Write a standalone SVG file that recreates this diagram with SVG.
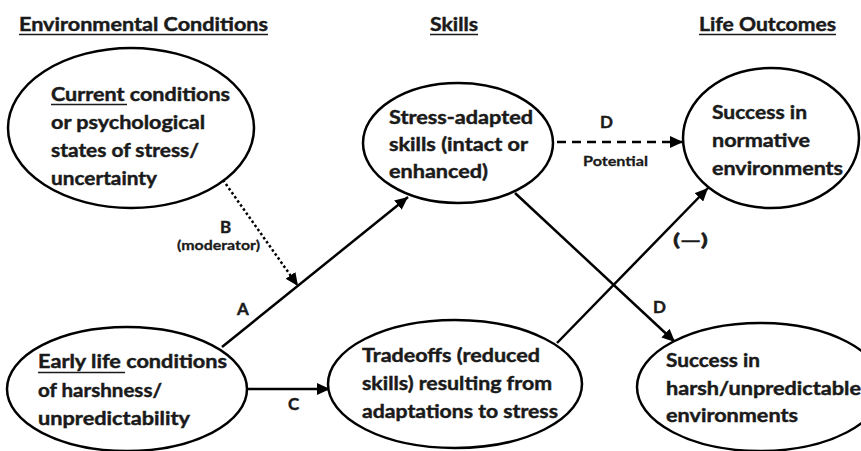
<svg xmlns="http://www.w3.org/2000/svg" width="861" height="451" viewBox="0 0 861 451">
<style>
  .t{font-family:Lato,"Open Sans","Liberation Sans",sans-serif;font-weight:bold;fill:#1a1a1a;stroke:#1a1a1a;stroke-width:0.45}
  .h{font-size:19px}
  .n{font-size:19px}
  .l{font-size:17px}
  .s{font-size:14px;stroke-width:0.3}
  .node{fill:#fff;stroke:#000;stroke-width:2.5}
  .ul{stroke:#1a1a1a;stroke-width:1.6}
  .c{stroke:#000;stroke-width:2.5;fill:none}
</style>
<defs>
  <marker id="ah" markerUnits="userSpaceOnUse" markerWidth="14" markerHeight="12" refX="13" refY="6" orient="auto">
    <path d="M0,0 L13,6 L0,12 z" fill="#000"/>
  </marker>
</defs>
<rect width="861" height="451" fill="#fff"/>

<g id="headers">
  <text class="t h" x="19" y="31" textLength="249" lengthAdjust="spacingAndGlyphs">Environmental Conditions</text>
  <line class="ul" x1="19" y1="34.5" x2="268" y2="34.5"/>
  <text class="t h" x="430" y="31" textLength="48" lengthAdjust="spacingAndGlyphs">Skills</text>
  <line class="ul" x1="430" y1="34.5" x2="478" y2="34.5"/>
  <text class="t h" x="699" y="31" textLength="137" lengthAdjust="spacingAndGlyphs">Life Outcomes</text>
  <line class="ul" x1="699" y1="34.5" x2="836" y2="34.5"/>
</g>

<g id="connectors">
  <line class="c" x1="222" y1="347" x2="408" y2="197" marker-end="url(#ah)"/>
  <line class="c" x1="223" y1="180" x2="298" y2="286" stroke-dasharray="2.5 2.5" marker-end="url(#ah)"/>
  <line class="c" x1="247" y1="389" x2="330" y2="389" marker-end="url(#ah)"/>
  <line class="c" x1="557" y1="142" x2="683" y2="142" stroke-dasharray="9 6" marker-end="url(#ah)"/>
  <line class="c" x1="515" y1="193" x2="675" y2="342" marker-end="url(#ah)"/>
  <line class="c" x1="557" y1="343" x2="708" y2="188" marker-end="url(#ah)"/>
</g>

<g id="labels">
  <text class="t l" x="237" y="315">A</text>
  <text class="t l" x="220" y="233">B</text>
  <text class="t s" x="177" y="250" textLength="83" lengthAdjust="spacingAndGlyphs">(moderator)</text>
  <text class="t l" x="288" y="410">C</text>
  <text class="t l" x="600" y="128">D</text>
  <text class="t s" x="583" y="166" textLength="65" lengthAdjust="spacingAndGlyphs">Potential</text>
  <text class="t l" x="673" y="246" textLength="35" lengthAdjust="spacingAndGlyphs">(—)</text>
  <text class="t l" x="653" y="313">D</text>
</g>

<g id="current">
  <ellipse class="node" cx="131" cy="128" rx="123" ry="80"/>
  <text class="t n" x="51" y="101" textLength="179" lengthAdjust="spacingAndGlyphs">Current conditions</text>
  <line class="ul" x1="51" y1="104.5" x2="127" y2="104.5"/>
  <text class="t n" x="51" y="129" textLength="154" lengthAdjust="spacingAndGlyphs">or psychological</text>
  <text class="t n" x="51" y="157" textLength="148" lengthAdjust="spacingAndGlyphs">states of stress/</text>
  <text class="t n" x="51" y="185" textLength="106" lengthAdjust="spacingAndGlyphs">uncertainty</text>
</g>

<g id="early">
  <ellipse class="node" cx="127" cy="389" rx="120" ry="62"/>
  <text class="t n" x="38" y="368" textLength="189" lengthAdjust="spacingAndGlyphs">Early life conditions</text>
  <line class="ul" x1="38" y1="372.5" x2="125" y2="372.5"/>
  <text class="t n" x="38" y="397" textLength="124" lengthAdjust="spacingAndGlyphs">of harshness/</text>
  <text class="t n" x="38" y="425" textLength="152" lengthAdjust="spacingAndGlyphs">unpredictability</text>
</g>

<g id="stress">
  <ellipse class="node" cx="458" cy="143" rx="95" ry="60"/>
  <text class="t n" x="389" y="124" textLength="144" lengthAdjust="spacingAndGlyphs">Stress-adapted</text>
  <text class="t n" x="389" y="151" textLength="139" lengthAdjust="spacingAndGlyphs">skills (intact or</text>
  <text class="t n" x="389" y="178" textLength="99" lengthAdjust="spacingAndGlyphs">enhanced)</text>
</g>

<g id="tradeoffs">
  <ellipse class="node" cx="455" cy="384" rx="127" ry="64"/>
  <text class="t n" x="362" y="362" textLength="178" lengthAdjust="spacingAndGlyphs">Tradeoffs (reduced</text>
  <text class="t n" x="362" y="390" textLength="190" lengthAdjust="spacingAndGlyphs">skills) resulting from</text>
  <text class="t n" x="362" y="418" textLength="196" lengthAdjust="spacingAndGlyphs">adaptations to stress</text>
</g>

<g id="normative">
  <ellipse class="node" cx="771" cy="138" rx="88" ry="70"/>
  <text class="t n" x="712" y="119" textLength="95" lengthAdjust="spacingAndGlyphs">Success in</text>
  <text class="t n" x="712" y="147" textLength="98" lengthAdjust="spacingAndGlyphs">normative</text>
  <text class="t n" x="712" y="175" textLength="131" lengthAdjust="spacingAndGlyphs">environments</text>
</g>

<g id="harsh">
  <ellipse class="node" cx="760" cy="387" rx="123" ry="64"/>
  <text class="t n" x="666" y="367" textLength="94" lengthAdjust="spacingAndGlyphs">Success in</text>
  <text class="t n" x="666" y="395" textLength="195" lengthAdjust="spacingAndGlyphs">harsh/unpredictable</text>
  <text class="t n" x="666" y="422" textLength="132" lengthAdjust="spacingAndGlyphs">environments</text>
</g>
</svg>
